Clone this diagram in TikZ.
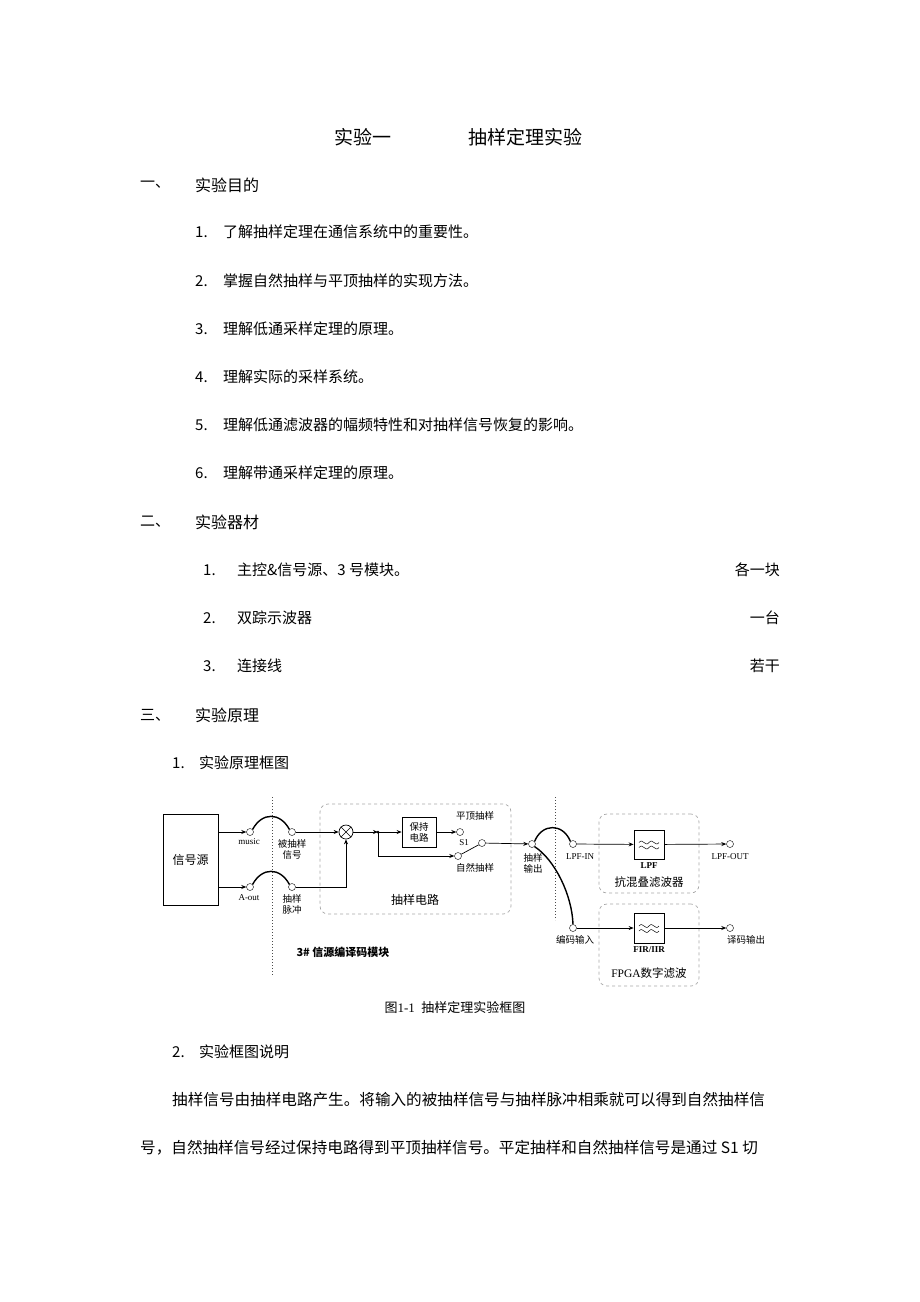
\documentclass[tikz,border=0pt]{standalone}
\usepackage{fontspec}
\setmainfont{Noto Sans CJK SC}
\newfontfamily\cjk{Noto Sans CJK SC}
\newfontfamily\mono{Liberation Serif}
\usetikzlibrary{arrows.meta}
\begin{document}
\begin{tikzpicture}[x=1pt,y=-1pt,
  body/.style={anchor=west,font=\fontsize{15}{18}\selectfont,inner sep=0},
  rt/.style={anchor=east,font=\fontsize{15}{18}\selectfont,inner sep=0},
  sm/.style={font=\fontsize{9.5}{11}\selectfont,inner sep=0,align=center},
  tiny/.style={font=\mono\fontsize{9}{10}\selectfont,inner sep=0},
  port/.style={circle,draw,fill=white,minimum size=7pt,inner sep=0},
  arr/.style={-{Stealth[length=5pt,width=4pt]},line width=0.7pt},
  wire/.style={line width=0.7pt},
  jump/.style={line width=1.4pt},
  grp/.style={draw=gray!70,dashed,rounded corners=8pt,line width=0.7pt},
  blk/.style={draw,line width=0.8pt}]
\useasboundingbox (0,0) rectangle (920,1302);
% title
\node[font=\fontsize{19}{22}\selectfont] (t1) at (363,137) {实验一};
\node[font=\fontsize{19}{22}\selectfont] (t2) at (525,137) {抽样定理实验};
% section 1
\node[body] (s1) at (140,185) {一、};
\node[body,font=\fontsize{16}{18}\selectfont] (s1t) at (195,185) {实验目的};
\foreach \n/\y/\t in {1/232/了解抽样定理在通信系统中的重要性。,2/281/掌握自然抽样与平顶抽样的实现方法。,3/329/理解低通采样定理的原理。,4/377/理解实际的采样系统。,5/425/理解低通滤波器的幅频特性和对抽样信号恢复的影响。,6/473/理解带通采样定理的原理。}{
  \node[body] (a\n) at (195,\y) {\n.};
  \node[body] (b\n) at (223,\y) {\t};}
% section 2
\node[body] (s2) at (140,522) {二、};
\node[body,font=\fontsize{16}{18}\selectfont] (s2t) at (195,522) {实验器材};
\foreach \n/\y/\t/\r in {1/570/主控\&信号源、3 号模块。/各一块,2/618/双踪示波器/一台,3/666/连接线/若干}{
  \node[body] (c\n) at (203,\y) {\n.};
  \node[body] (d\n) at (237,\y) {\t};
  \node[rt] (e\n) at (780,\y) {\r};}
% section 3
\node[body] (s3) at (140,715) {三、};
\node[body,font=\fontsize{16}{18}\selectfont] (s3t) at (195,715) {实验原理};
\node[body] (f1) at (172,763) {1.};
\node[body] (f1t) at (199,763) {实验原理框图};
% ---------- diagram ----------
\draw[dotted,line width=1pt,gray!60!black] (272,797) -- (272,975);
\draw[dotted,line width=1pt,gray!60!black] (555,797) -- (555,920);
\node[blk,minimum width=55pt,minimum height=91pt] (src) at (190.5,859.5) {\fontsize{12}{14}\selectfont 信号源};
\node[grp,minimum width=191pt,minimum height=110pt] (g1) at (415.5,859) {};
\node[grp,minimum width=100pt,minimum height=79pt] (g2) at (649,853.5) {};
\node[grp,minimum width=100pt,minimum height=82pt] (g3) at (649,945) {};
% ports
\node[port] (pm) at (250,832) {};
\node[port] (pa) at (250,887) {};
\node[port] (ps) at (292,832) {};
\node[port] (pp) at (292,887) {};
\node[port] (pf) at (460,832) {};
\node[port] (pz) at (458,856) {};
\node[port] (pc) at (482,843) {};
\node[port] (po) at (532,844) {};
\node[port] (pl) at (573,844) {};
\node[port] (pe) at (573,928) {};
\node[port] (plo) at (730,844) {};
\node[port] (pd) at (730,928) {};
\node[circle,draw,minimum size=14pt,inner sep=0,line width=0.7pt] (mul) at (346,832) {};
\draw[line width=0.6pt] (mul.north west) -- (mul.south east) (mul.north east) -- (mul.south west);
\node[blk,minimum width=34pt,minimum height=30pt,align=center,font=\fontsize{9.5}{11}\selectfont] (hold) at (419,832) {保持\\电路};
\node[blk,minimum width=30pt,minimum height=29pt] (lpf) at (649,844.5) {};
\node[blk,minimum width=30pt,minimum height=30pt] (fir) at (649,928) {};
\foreach \b in {lpf,fir}{
  \draw[line width=0.5pt] ([xshift=-10pt,yshift=2pt]\b.center) .. controls +(4,-5) and +(-4,5) .. +(10,0) .. controls +(4,-5) and +(-4,5) .. +(20,0);
  \draw[line width=0.5pt] ([xshift=-10pt,yshift=-3pt]\b.center) .. controls +(4,-5) and +(-4,5) .. +(10,0) .. controls +(4,-5) and +(-4,5) .. +(20,0);}
\coordinate (j1) at (378,832);
\coordinate (j2) at (378,856);
\coordinate (j3) at (346,887);
% wires
\draw[arr] (src.east |- pm) -- (pm);
\draw[arr] (src.east |- pa) -- (pa);
\draw[jump] (pm.north east) .. controls (262,812) and (280,812) .. (ps.north west);
\draw[jump] (pa.north east) .. controls (262,867) and (280,867) .. (pp.north west);
\draw[arr] (ps) -- (mul);
\draw[arr] (pp) -- (j3) -- (mul);
\draw[arr] (mul) -- (j1);
\fill (j1) circle (1.5pt);
\draw[arr] (j1) -- (hold);
\draw[arr] (j1) -- (j2) -- (pz);
\draw[arr] (hold) -- (pf);
\draw[wire] (pz) -- (pc);
\draw[arr] (pc) -- (po);
\draw[jump] (po.north east) .. controls (542,823) and (563,823) .. (pl.north west);
\draw[jump] (po.south east) .. controls (555,860) and (572,895) .. (pe.north);
\draw[arr] (pl) -- (lpf);
\draw[arr] (lpf) -- (plo);
\draw[arr] (pe) -- (fir);
\draw[arr] (fir) -- (pd);
% labels
\node[tiny] (lm) at (249,842) {music};
\node[tiny] (la) at (249,898) {A-out};
\node[sm] (ls) at (292,849) {被抽样\\信号};
\node[sm] (lp) at (292,904) {抽样\\脉冲};
\node[sm] (lf) at (475,816) {平顶抽样};
\node[tiny] (l1) at (464,843) {S1};
\node[sm] (lz) at (475,868) {自然抽样};
\node[font=\fontsize{12}{14}\selectfont] (lg1) at (415,900) {抽样电路};
\node[sm] (lo) at (533,863) {抽样\\输出};
\node[tiny] (ll) at (580,857) {LPF-IN};
\node[tiny] (llo) at (730,857) {LPF-OUT};
\node[sm] (le) at (575,940) {编码输入};
\node[sm] (ld) at (746,940) {译码输出};
\node[tiny,font=\mono\bfseries\fontsize{9}{10}\selectfont] (llpf) at (649,866) {LPF};
\node[font=\fontsize{11.5}{13}\selectfont] (lg2) at (649,882) {抗混叠滤波器};
\node[tiny,font=\mono\bfseries\fontsize{9}{10}\selectfont] (lfir) at (649,950) {FIR/IIR};
\node[font=\fontsize{11.5}{13}\selectfont] (lg3) at (649,973) {\mono FPGA\cjk 数字滤波};
\node[font=\bfseries\fontsize{11}{13}\selectfont] (lmod) at (343,952) {3\# 信源编译码模块};
% caption
\node[font=\fontsize{13}{15}\selectfont] (cap) at (455,1008) {\cjk 图\mono 1-1\ \ \cjk 抽样定理实验框图};
\node[body] (f2) at (172,1052) {2.};
\node[body] (f2t) at (199,1052) {实验框图说明};
\node[body,font=\fontsize{15.6}{18}\selectfont] (p1) at (172,1100) {抽样信号由抽样电路产生。将输入的被抽样信号与抽样脉冲相乘就可以得到自然抽样信};
\node[body,font=\fontsize{15.6}{18}\selectfont] (p2) at (140,1148) {号，自然抽样信号经过保持电路得到平顶抽样信号。平定抽样和自然抽样信号是通过 S1 切};
\end{tikzpicture}
\end{document}
